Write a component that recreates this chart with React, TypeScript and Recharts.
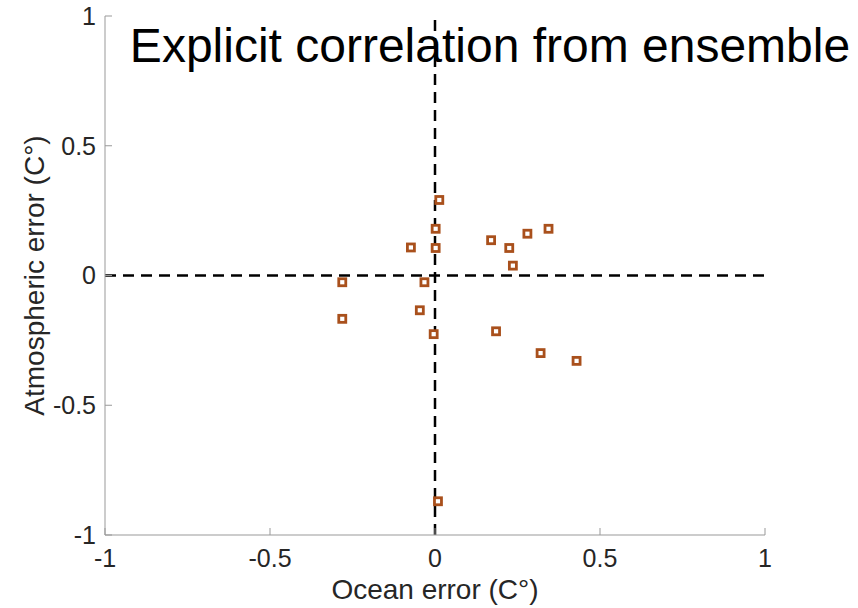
import {
  ScatterChart,
  Scatter,
  XAxis,
  YAxis,
  ReferenceLine,
  Customized,
} from "recharts";

const oceanError = [
  0.013, 0.002, -0.073, 0.002, 0.17, 0.225, 0.28, 0.344, 0.236,
  -0.281, -0.032, -0.281, -0.046, -0.004, 0.185, 0.32, 0.429, 0.009,
];
const atmosError = [
  0.291, 0.18, 0.108, 0.106, 0.136, 0.106, 0.161, 0.18, 0.038,
  -0.026, -0.026, -0.167, -0.134, -0.226, -0.215, -0.299, -0.329, -0.87,
];
const axisTicks = [-1, -0.5, 0, 0.5, 1];

const points = oceanError.map((x, i) => ({ x, y: atmosError[i] }));

const font = "'Liberation Sans', Arial, Helvetica, sans-serif";
const tickStyle = { fill: "#262626", fontSize: 25, fontFamily: font };
const labelStyle = { fill: "#262626", fontSize: 28, fontFamily: font, textAnchor: "middle" as const };

const SquareMarker = (props: any) => {
  const { cx, cy } = props;
  return (
    <rect
      x={cx - 3.5}
      y={cy - 3.5}
      width={7}
      height={7}
      fill="#ffffff"
      stroke="#A9501C"
      strokeWidth={2.8}
    />
  );
};

const Title = () => (
  <text
    x={490}
    y={62}
    textAnchor="middle"
    fontSize={48}
    fontFamily={font}
    fill="#000000"
  >
    Explicit correlation from ensemble
  </text>
);

export default function App() {
  return (
    <div style={{ position: "absolute", left: 0, top: 0, width: 858, height: 608, background: "#fff" }}>
      <ScatterChart
        width={858}
        height={608}
        margin={{ top: 16, right: 93, bottom: 0, left: 0 }}
      >
        <XAxis
          type="number"
          dataKey="x"
          domain={[-1, 1]}
          ticks={axisTicks}
          allowDataOverflow
          height={73}
          tickSize={-7}
          tickMargin={21}
          tick={tickStyle}
          stroke="#999999"
          label={{ value: "Ocean error (C°)", position: "insideBottom", offset: 9, style: labelStyle }}
        />
        <YAxis
          type="number"
          dataKey="y"
          domain={[-1, 1]}
          ticks={axisTicks}
          allowDataOverflow
          width={105}
          tickSize={-7}
          tickMargin={16}
          tick={tickStyle}
          stroke="#999999"
          label={{ value: "Atmospheric error (C°)", angle: -90, position: "insideLeft", offset: 34, style: labelStyle }}
        />
        <ReferenceLine y={0} stroke="#000" strokeWidth={2.5} strokeDasharray="11 7" />
        <ReferenceLine x={0} stroke="#000" strokeWidth={2.5} strokeDasharray="11 7" />
        <Scatter data={points} shape={SquareMarker} isAnimationActive={false} />
        <Customized component={Title} />
      </ScatterChart>
    </div>
  );
}
